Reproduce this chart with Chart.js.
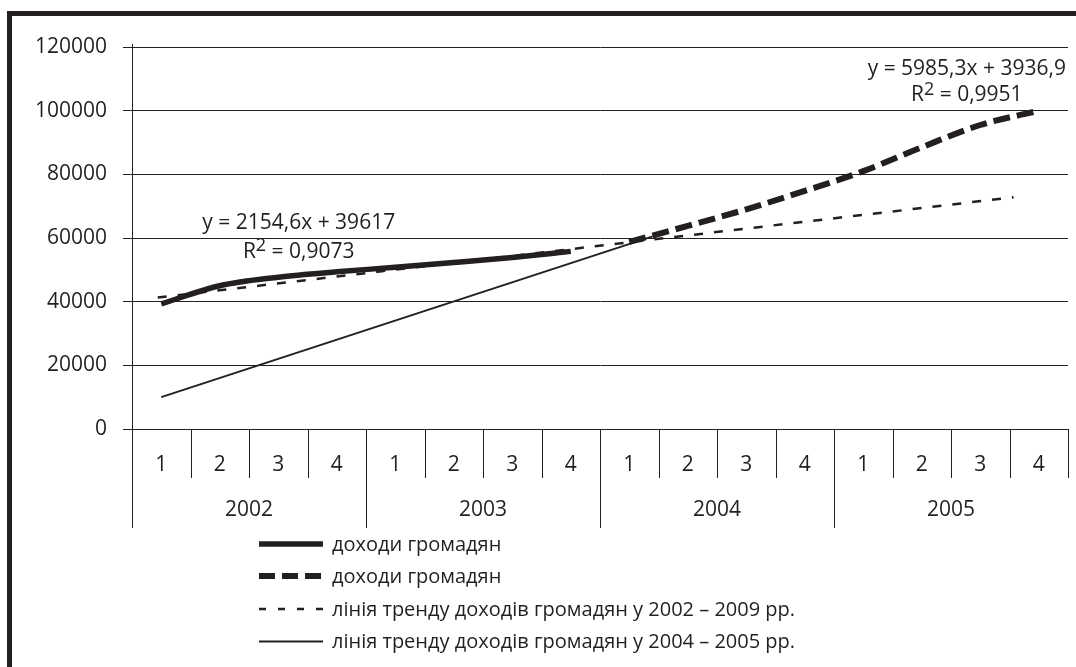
<!DOCTYPE html>
<html lang="uk">
<head>
<meta charset="utf-8">
<title>Доходи громадян</title>
<script src="https://cdn.jsdelivr.net/npm/chart.js@4.4.1/dist/chart.umd.min.js"></script>
<style>
    html, body { margin: 0; padding: 0; background: #fff; overflow: hidden; }
    .frame {
        position: absolute; left: 7px; top: 11px; width: 1200px; height: 800px;
        border: 5px solid #231f20; box-sizing: border-box;
    }
    #chart { position: absolute; left: 0; top: 0; }
</style>
</head>
<body>
<div class="frame"></div>
<canvas id="chart" width="1076" height="667"></canvas>
<script>
// Categories (quarters grouped by year)
const quarters = ['1', '2', '3', '4', '1', '2', '3', '4', '1', '2', '3', '4', '1', '2', '3', '4'];
const years = ['2002', '2003', '2004', '2005'];

// Series values (x = quarter number, 1 = I quarter 2002)
const income0203X = [1, 2, 3, 4, 5, 6, 7, 8];
const income0203 = [39300, 45000, 47700, 49400, 50800, 52300, 53900, 55800];
const income0405X = [9, 10, 11, 12, 13, 14, 15, 16];
const income0405 = [58800, 63800, 69000, 74800, 81000, 88500, 95500, 100000];
const trendLongX = [0.94, 15.57];
const trendLong = [41300, 72800];
const trendShortX = [1, 9.4];
const trendShort = [10000, 60500];

const seriesNames = [
    'доходи громадян',
    'доходи громадян',
    'лінія тренду доходів громадян у 2002 – 2009 рр.',
    'лінія тренду доходів громадян у 2004 – 2005 рр.'
];

// Y axis ticks
const yMin = 0, yMax = 120000, yStep = 20000;

const ink = '#231f20';
const fontFamily = '"Open Sans", "Noto Sans", sans-serif';

function points(xs, ys) {
    return xs.map((x, i) => ({ x: x, y: ys[i] }));
}

// Draws the two-level category axis, trend equations and the legend
const decorPlugin = {
    id: 'decor',
    afterDraw(chart) {
        const ctx = chart.ctx;
        const x = chart.scales.x;
        const y = chart.scales.y;
        const base = y.getPixelForValue(0);
        const area = chart.chartArea;

        ctx.save();
        ctx.strokeStyle = ink;
        ctx.lineWidth = 1;
        ctx.beginPath();
        // y axis a bit above the top grid line
        ctx.moveTo(area.left + 0.5, area.top - 3);
        ctx.lineTo(area.left + 0.5, area.top);
        for (let i = 0; i <= quarters.length; i++) {
            const px = Math.round(x.getPixelForValue(i + 0.5)) + 0.5;
            const long = i % 4 === 0 && i < quarters.length;
            ctx.moveTo(px, base);
            ctx.lineTo(px, base + (long ? 99 : 49));
        }
        ctx.stroke();

        ctx.fillStyle = ink;
        ctx.textAlign = 'center';
        ctx.textBaseline = 'middle';
        ctx.font = '21px ' + fontFamily;
        quarters.forEach((q, i) => {
            ctx.fillText(q, x.getPixelForValue(i + 1), base + 36);
        });
        years.forEach((yr, j) => {
            ctx.fillText(yr, x.getPixelForValue(j * 4 + 2.5), base + 81);
        });

        // trend equations
        const eqs = [
            { x: 3.35, y: 64800, r: 55700, text: 'y = 2154,6x + 39617', r2: '0,9073' },
            { x: 14.77, y: 113000, r: 104800, text: 'y = 5985,3x + 3936,9', r2: '0,9951' }
        ];
        eqs.forEach(e => {
            const cx = x.getPixelForValue(e.x);
            ctx.font = '21px ' + fontFamily;
            ctx.textAlign = 'center';
            ctx.fillText(e.text, cx, y.getPixelForValue(e.y));
            const tail = ' = ' + e.r2;
            const wR = ctx.measureText('R').width;
            ctx.font = '18px ' + fontFamily;
            const w2 = ctx.measureText('2').width;
            ctx.font = '21px ' + fontFamily;
            const wT = ctx.measureText(tail).width;
            let sx = cx - (wR + w2 + wT) / 2;
            const ry = y.getPixelForValue(e.r);
            ctx.textAlign = 'left';
            ctx.fillText('R', sx, ry);
            ctx.font = '18px ' + fontFamily;
            ctx.fillText('2', sx + wR, ry - 6);
            ctx.font = '21px ' + fontFamily;
            ctx.fillText(tail, sx + wR + w2, ry);
        });

        // legend
        const lx0 = 259, lx1 = 323, ltx = 332;
        const rows = [544, 576, 609, 641.5];
        chart.data.datasets.forEach((ds, i) => {
            const ly = rows[i];
            ctx.beginPath();
            ctx.lineWidth = ds.borderWidth;
            ctx.setLineDash(ds.legendDash || ds.borderDash || []);
            ctx.moveTo(lx0, ly);
            ctx.lineTo(lx1, ly);
            ctx.stroke();
            ctx.setLineDash([]);
            ctx.font = '20px ' + fontFamily;
            ctx.textAlign = 'left';
            ctx.fillText(ds.label, ltx, ly + 1);
        });
        ctx.restore();
    }
};

const chart = new Chart(document.getElementById('chart').getContext('2d'), {
    type: 'line',
    data: {
        datasets: [
            {
                label: seriesNames[0],
                data: points(income0203X, income0203),
                borderColor: ink,
                borderWidth: 5.5,
                cubicInterpolationMode: 'monotone'
            },
            {
                label: seriesNames[1],
                data: points(income0405X, income0405),
                borderColor: ink,
                borderWidth: 6,
                borderDash: [17, 7],
                legendDash: [16, 7],
                cubicInterpolationMode: 'monotone'
            },
            {
                label: seriesNames[2],
                data: points(trendLongX, trendLong),
                borderColor: ink,
                borderWidth: 2.5,
                borderDash: [9, 11],
                legendDash: [7, 12]
            },
            {
                label: seriesNames[3],
                data: points(trendShortX, trendShort),
                borderColor: ink,
                borderWidth: 2
            }
        ]
    },
    options: {
        responsive: false,
        animation: false,
        events: [],
        layout: { padding: { top: 47, right: 8, bottom: 238, left: 0 } },
        elements: {
            point: { radius: 0 },
            line: { borderCapStyle: 'butt', fill: false }
        },
        scales: {
            x: {
                type: 'linear',
                display: false,
                min: 0.5,
                max: quarters.length + 0.5
            },
            y: {
                min: yMin,
                max: yMax,
                afterFit: function(scale) { scale.width = 132; },
                ticks: {
                    stepSize: yStep,
                    color: ink,
                    padding: 16,
                    font: { family: fontFamily, size: 21 },
                    callback: function(value) { return String(value); }
                },
                grid: { color: ink, lineWidth: 1, tickLength: 9 },
                border: { display: true, color: ink, width: 1 }
            }
        },
        plugins: {
            legend: { display: false },
            tooltip: { enabled: false }
        }
    },
    plugins: [decorPlugin]
});
</script>
</body>
</html>
